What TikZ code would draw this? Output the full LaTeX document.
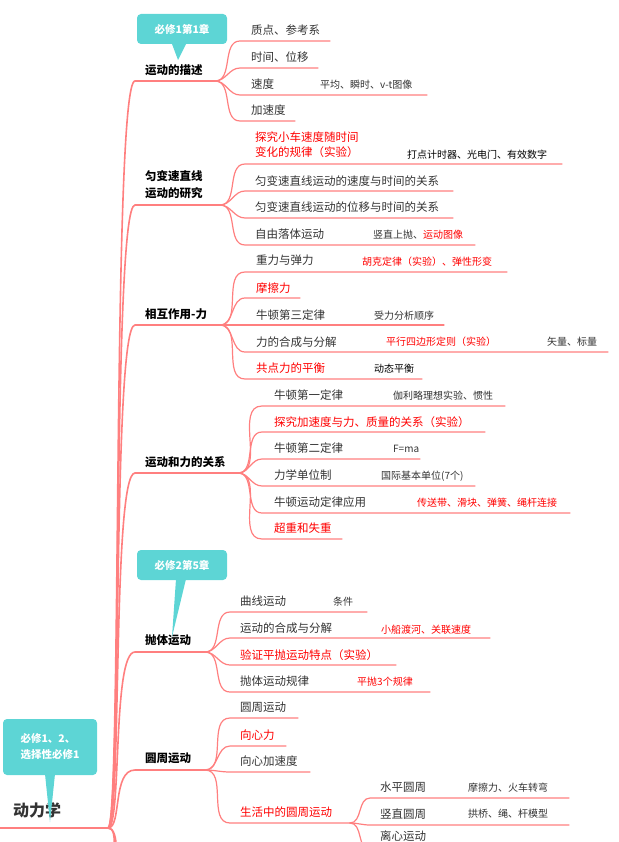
\documentclass[tikz,border=0pt]{standalone}
\usepackage{fontspec}
\setmainfont{Noto Sans CJK SC}
\usetikzlibrary{positioning}
\definecolor{lnc}{HTML}{FF7F7F}
\definecolor{tealc}{HTML}{5DD5D5}
\definecolor{txc}{HTML}{333333}
\tikzset{
  br/.style={draw=lnc, line width=1.6pt, line cap=round},
  kbr/.style={draw=lnc, line width=1.2pt, line cap=round},
  topic/.style={anchor=west, inner sep=0pt, font=\bfseries\fontsize{11.5}{13}\selectfont, text=black},
  kid/.style={anchor=west, inner sep=0pt, font=\fontsize{11.5}{15}\selectfont, text=txc},
  hot/.style={kid, text=red},
  sub/.style={kid, font=\fontsize{10}{12}\selectfont},
  tag/.style={fill=tealc, rounded corners=4pt, text=white, font=\bfseries\fontsize{10.5}{16}\selectfont, align=left}
}
\newcommand{\kidline}[5]{% parent, name, x, y, end
  \coordinate (#2s) at (#3,#4); \coordinate (#2e) at (#5,#4);
  \draw[kbr] (#1) to[out=0,in=180] (#2s) -- (#2e);}
\begin{document}
\begin{tikzpicture}[x=1pt,y=-1pt]
\useasboundingbox (0,0) rectangle (618,842);
% root
\node[anchor=west, inner sep=0pt, font=\bfseries\fontsize{16}{18}\selectfont, text=txc] (Root) at (13,810) {动力学};
\coordinate (R0) at (0,828); \coordinate (R) at (108,828);
\draw[br, line width=2pt] (R0) -- (R);
\draw[br] (R) to[out=0,in=-95] (116,860);
\draw[br] (R) to[out=5,in=-100] (112,860);
% level one
\foreach \n/\y/\e in {D/81/215, V/205/220, F/325/220, M/473/238, P/652/205, C/770/205}{
  \coordinate (\n s) at (135,\y); \coordinate (\n) at (\e,\y);
  \draw[br] (R) .. controls (122,828) and (112,\y) .. (\n s) -- (\n);
}
\node[topic] (tD) at (145,70) {运动的描述};
\node[topic, align=left, font=\bfseries\fontsize{11.5}{17}\selectfont] (tV) at (145,185) {匀变速直线\\运动的研究};
\node[topic] (tF) at (145,314) {相互作用-力};
\node[topic] (tM) at (145,462) {运动和力的关系};
\node[topic] (tP) at (145,640) {抛体运动};
\node[topic] (tC) at (145,758) {圆周运动};
% tags
\node[tag, minimum width=90pt, minimum height=30pt] (g1) at (182,29) {必修1第1章};
\fill[tealc] (172,44) -- (186,44) -- (178,60) -- cycle;
\node[tag, minimum width=90pt, minimum height=30pt] (g2) at (182,565) {必修2第5章};
\fill[tealc] (176,579) -- (186,579) -- (172,637) -- cycle;
\node[tag, minimum width=94pt, minimum height=56pt, align=left] (g3) at (50,747) {必修1、2、\\选择性必修1};
\fill[tealc] (45,774) -- (55,774) -- (50,822) -- cycle;
% 运动的描述
\kidline{D}{d1}{240}{41}{330}\node[kid] at (251,30) {质点、参考系};
\kidline{D}{d2}{240}{68}{318}\node[kid] at (251,57) {时间、位移};
\kidline{D}{d3}{240}{95}{427}\node[kid] at (251,84) {速度}; \node[sub] at (320,85) {平均、瞬时、v-t图像};
\kidline{D}{d4}{240}{121}{295}\node[kid] at (251,110) {加速度};
% 匀变速
\kidline{V}{v1}{245}{164}{562}\node[hot, align=left] at (255,145) {探究小车速度随时间\\变化的规律（实验）};
\node[sub, text=black] at (407,155) {打点计时器、光电门、有效数字};
\kidline{V}{v2}{245}{191}{453}\node[kid] at (255,181) {匀变速直线运动的速度与时间的关系};
\kidline{V}{v3}{245}{218}{453}\node[kid] at (255,207) {匀变速直线运动的位移与时间的关系};
\kidline{V}{v4}{245}{245}{475}\node[kid] at (255,234) {自由落体运动};
\node[sub] at (373,235) {竖直上抛、\textcolor{red}{运动图像}};
% 相互作用
\kidline{F}{f1}{245}{272}{507}\node[kid] at (256,260) {重力与弹力};
\node[sub, text=red] at (362,262) {胡克定律（实验）、弹性形变};
\kidline{F}{f2}{245}{298}{300}\node[hot] at (256,288) {摩擦力};
\kidline{F}{f3}{245}{325}{444}\node[kid] at (256,315) {牛顿第三定律}; \node[sub] at (374,316) {受力分析顺序};
\kidline{F}{f4}{245}{352}{608}\node[kid] at (256,342) {力的合成与分解};
\node[sub, text=red] at (386,342) {平行四边形定则（实验）}; \node[sub] at (547,342) {矢量、标量};
\kidline{F}{f5}{245}{379}{422}\node[hot] at (256,368) {共点力的平衡}; \node[sub, text=black] at (374,369) {动态平衡};
% 运动和力
\kidline{M}{m1}{262}{406}{505}\node[kid] at (274,395) {牛顿第一定律}; \node[sub] at (393,396) {伽利略理想实验、惯性};
\kidline{M}{m2}{262}{432}{485}\node[hot] at (274,422) {探究加速度与力、质量的关系（实验）};
\kidline{M}{m3}{262}{459}{420}\node[kid] at (274,448) {牛顿第二定律}; \node[sub] at (393,449) {F=ma};
\kidline{M}{m4}{262}{486}{475}\node[kid] at (274,475) {力学单位制}; \node[sub] at (381,476) {国际基本单位(7个)};
\kidline{M}{m5}{262}{513}{570}\node[kid] at (274,502) {牛顿运动定律应用};
\node[sub, text=red] at (417,503) {传送带、滑块、弹簧、绳杆连接};
\kidline{M}{m6}{262}{539}{342}\node[hot] at (274,528) {超重和失重};
% 抛体运动
\kidline{P}{p1}{230}{612}{367}\node[kid] at (240,601) {曲线运动}; \node[sub] at (333,602) {条件};
\kidline{P}{p2}{230}{638}{490}\node[kid] at (240,628) {运动的合成与分解};
\node[sub, text=red] at (381,630) {小船渡河、关联速度};
\kidline{P}{p3}{230}{665}{396}\node[hot] at (240,655) {验证平抛运动特点（实验）};
\kidline{P}{p4}{230}{692}{430}\node[kid] at (240,681) {抛体运动规律}; \node[sub, text=red] at (357,682) {平抛3个规律};
% 圆周运动
\kidline{C}{c1}{230}{718}{298}\node[kid] at (240,707) {圆周运动};
\kidline{C}{c2}{230}{746}{286}\node[hot] at (240,735) {向心力};
\kidline{C}{c3}{230}{772}{310}\node[kid] at (240,761) {向心加速度};
\kidline{C}{c4}{230}{823}{350}\node[hot] (tc4) at (240,812) {生活中的圆周运动};
\coordinate (L) at (350,823);
\kidline{L}{l1}{370}{798}{569}\node[kid] at (380,787) {水平圆周}; \node[sub] at (468,788) {摩擦力、火车转弯};
\kidline{L}{l2}{370}{825}{569}\node[kid] at (380,814) {竖直圆周}; \node[sub] at (468,814) {拱桥、绳、杆模型};
\kidline{L}{l3}{370}{850}{460}\node[kid] at (380,836) {离心运动};
\end{tikzpicture}
\end{document}
